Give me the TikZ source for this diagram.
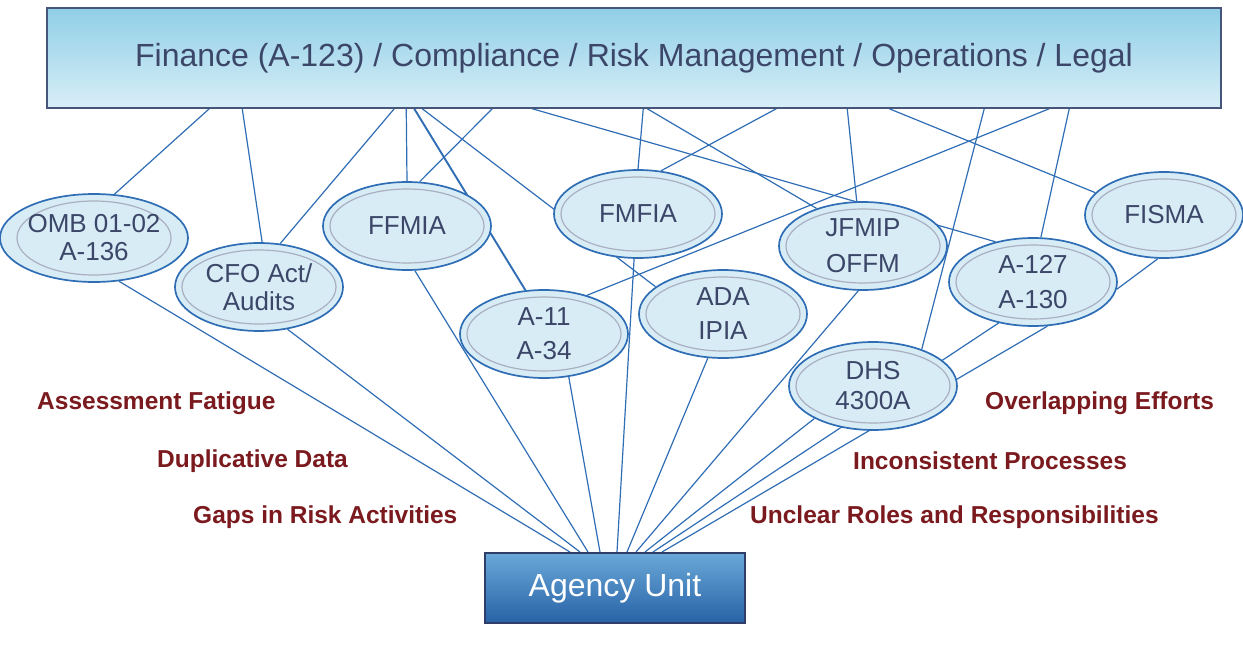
\documentclass[tikz,border=0pt]{standalone}
\usepackage{fontspec}
\setmainfont{Liberation Sans}
\usetikzlibrary{shapes.geometric,backgrounds}

\definecolor{linkblue}{HTML}{2F6DB5}
\definecolor{rimgrey}{HTML}{A9AFC0}
\definecolor{bubblefill}{HTML}{D8ECF6}
\definecolor{labeltext}{HTML}{3B4668}
\definecolor{issuered}{HTML}{7B1A1E}
\definecolor{boxedge}{HTML}{46557A}
\definecolor{boxtop}{HTML}{90CFE7}
\definecolor{boxbottom}{HTML}{D8EEF7}
\definecolor{unitedge}{HTML}{2F3D68}
\definecolor{unittop}{HTML}{6AA8D8}
\definecolor{unitbottom}{HTML}{2762A6}

\tikzset{
	link/.style={draw=linkblue, line width=1.2pt},
	bubble/.style 2 args={ellipse, draw=linkblue, line width=1.7pt, fill=bubblefill,
		minimum width=#1, minimum height=#2, inner sep=0pt, text=labeltext, align=center,
		font=\fontsize{26}{28}\selectfont,
		path picture={\draw[rimgrey, line width=1.2pt] (path picture bounding box.center)
			ellipse [x radius=#1/2-7pt, y radius=#2/2-7pt];}},
	issue/.style={anchor=west, inner sep=0pt, text=issuered, font=\bfseries\fontsize{24.5}{26}\selectfont},
}

\begin{document}
\begin{tikzpicture}[x=1pt, y=-1pt]
	\useasboundingbox (0,0) rectangle (1243,645);

	% offices on top, agency at the bottom
	\node[draw=boxedge, line width=1.5pt, top color=boxtop, bottom color=boxbottom,
		minimum width=1174pt, minimum height=100pt, text=labeltext,
		font=\fontsize{32}{36}\selectfont] (fin) at (634,58)
		{Finance (A-123) / Compliance / Risk Management / Operations / Legal};
	\node[draw=unitedge, line width=2pt, top color=unittop, bottom color=unitbottom,
		minimum width=260pt, minimum height=70pt, text=white,
		font=\fontsize{32}{36}\selectfont] (agency) at (615,588) {Agency Unit};

	% the requirements
	\node[bubble={168pt}{88pt}] (omb) at (94,238) {OMB 01-02\\A-136};
	\node[bubble={168pt}{88pt}] (cfo) at (259,287) {CFO Act/\\Audits};
	\node[bubble={168pt}{88pt}] (ffmia) at (407,226) {FFMIA};
	\node[bubble={168pt}{88pt}] (fmfia) at (638,214) {FMFIA};
	\node[bubble={168pt}{88pt}] (a11) at (544,334) {A-11\\[6pt]A-34};
	\node[bubble={168pt}{88pt}] (ada) at (723,314) {ADA\\[6pt]IPIA};
	\node[bubble={168pt}{88pt}] (jfmip) at (863,246) {JFMIP\\[8pt]OFFM};
	\node[bubble={168pt}{88pt}] (a127) at (1033,282) {A-127\\[7pt]A-130};
	\node[bubble={158pt}{86pt}] (fisma) at (1164,215) {FISMA};
	\node[bubble={168pt}{88pt}] (dhs) at (873,386) {DHS\\[2pt]4300A};

	% issues
	\node[issue] (fatigue) at (37,403) {Assessment Fatigue};
	\node[issue] (dupdata) at (157,461) {Duplicative Data};
	\node[issue] (gaps) at (193,517) {Gaps in Risk Activities};
	\node[issue] (overlap) at (985,403) {Overlapping Efforts};
	\node[issue] (inconsistent) at (853,461) {Inconsistent Processes};
	\node[issue] (roles) at (750,517) {Unclear Roles and Responsibilities};

	\begin{scope}[on background layer]
		% top box down to the bubbles
		\draw[link] ([xshift=163pt]fin.south west) -- (omb.65);
		\draw[link] ([xshift=196pt]fin.south west) -- (cfo.86);
		\draw[link] ([xshift=348pt]fin.south west) -- (cfo.64);
		\draw[link] ([xshift=360pt]fin.south west) -- (ffmia.90);
		\draw[link, line width=1.9pt] ([xshift=368pt]fin.south west) -- (a11.113);
		\draw[link] ([xshift=376pt]fin.south west) -- (ada.158);
		\draw[link] ([xshift=446pt]fin.south west) -- (ffmia.74);
		\draw[link] ([xshift=486pt]fin.south west) -- (a127.133);
		\draw[link] ([xshift=597pt]fin.south west) -- (fmfia.90);
		\draw[link] ([xshift=601pt]fin.south west) -- (jfmip.141);
		\draw[link] ([xshift=730pt]fin.south west) -- (fmfia.62);
		\draw[link] ([xshift=801pt]fin.south west) -- (jfmip.98);
		\draw[link] ([xshift=843pt]fin.south west) -- (fisma.162);
		\draw[link] ([xshift=938pt]fin.south west) -- (dhs.37);
		\draw[link] ([xshift=1003pt]fin.south west) -- (a11.42);
		\draw[link] ([xshift=1023pt]fin.south west) -- (a127.80);
		\draw[link] (fisma.262) -- (a127.355);

		% bubbles down to the agency
		\draw[link] (omb.300) -- ([xshift=-45pt]agency.north);
		\draw[link] (cfo.304) -- ([xshift=-35pt]agency.north);
		\draw[link] (ffmia.280) -- ([xshift=-27pt]agency.north);
		\draw[link] (a11.300) -- ([xshift=-15pt]agency.north);
		\draw[link] (fmfia.265) -- ([xshift=2pt]agency.north);
		\draw[link] (ada.251) -- ([xshift=12pt]agency.north);
		\draw[link] (jfmip.264) -- ([xshift=21pt]agency.north);
		\draw[link] (dhs.209) -- ([xshift=30pt]agency.north);
		\draw[link] (a127.230) -- ([xshift=38pt]agency.north);
		\draw[link] (a127.288) -- ([xshift=47pt]agency.north);
	\end{scope}
\end{tikzpicture}
\end{document}
